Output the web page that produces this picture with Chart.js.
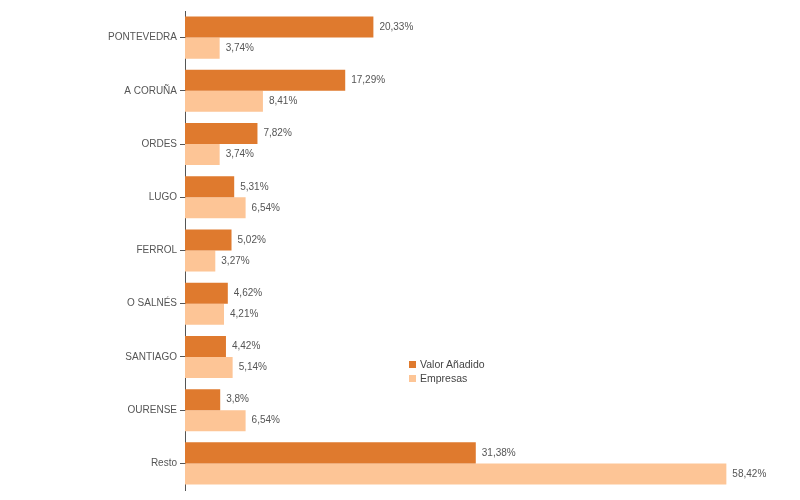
<!DOCTYPE html>
<html>
<head>
  <meta charset="utf-8">
  <title>Valor Añadido y Empresas</title>
  <style>
    body { margin: 0; font-family: "Liberation Sans", Arial, sans-serif; }
    .wrap { position: relative; width: 800px; height: 500px; }
    .legend { position: absolute; left: 409px; top: 357px; font-size: 10.5px; color: #444; line-height: 14px; }
    .legend span { display: inline-block; width: 7px; height: 7px; margin-right: 4px; vertical-align: 0px; }
  </style>
</head>
<body>
  <div class="wrap">
    <canvas id="chart" width="800" height="500"></canvas>
    <div class="legend">
      <div><span style="background:#DF7A2E"></span>Valor Añadido</div>
      <div><span style="background:#FDC596"></span>Empresas</div>
    </div>
  </div>

  <script src="https://cdn.jsdelivr.net/npm/chart.js"></script>
  <script>
    const categories = ['PONTEVEDRA', 'A CORUÑA', 'ORDES', 'LUGO', 'FERROL', 'O SALNÉS', 'SANTIAGO', 'OURENSE', 'Resto'];
    const valorAnadido = [20.33, 17.29, 7.82, 5.31, 5.02, 4.62, 4.42, 3.8, 31.38];
    const empresas = [3.74, 8.41, 3.74, 6.54, 3.27, 4.21, 5.14, 6.54, 58.42];

    // etiquetas de valor al final de cada barra
    const valueLabels = {
      id: 'valueLabels',
      afterDatasetsDraw(chart) {
        const ctx = chart.ctx;
        ctx.save();
        ctx.font = '10px "Liberation Sans", Arial, sans-serif';
        ctx.fillStyle = '#555';
        ctx.textBaseline = 'middle';
        chart.data.datasets.forEach((ds, i) => {
          chart.getDatasetMeta(i).data.forEach((bar, j) => {
            const txt = String(ds.data[j]).replace('.', ',') + '%';
            ctx.fillText(txt, bar.x + 6, bar.y);
          });
        });
        ctx.restore();
      }
    };

    new Chart(document.getElementById('chart'), {
      type: 'bar',
      data: {
        labels: categories,
        datasets: [
          { label: 'Valor Añadido', data: valorAnadido, backgroundColor: '#DF7A2E' },
          { label: 'Empresas', data: empresas, backgroundColor: '#FDC596' }
        ]
      },
      options: {
        indexAxis: 'y',
        responsive: false,
        animation: false,
        layout: { padding: { top: 11, bottom: 10, left: 0, right: 59 } },
        datasets: { bar: { categoryPercentage: 0.79, barPercentage: 1.0 } },
        plugins: { legend: { display: false }, tooltip: { enabled: false } },
        scales: {
          x: { display: false, min: 0, max: 60 },
          y: {
            afterFit(scale) { scale.width = 185; },
            grid: { drawOnChartArea: false, offset: false, tickLength: 5, color: '#555' },
            border: { color: '#555' },
            ticks: { color: '#555', font: { size: 10, family: '"Liberation Sans", Arial, sans-serif' }, padding: 3 }
          }
        }
      },
      plugins: [valueLabels]
    });
  </script>
</body>
</html>
